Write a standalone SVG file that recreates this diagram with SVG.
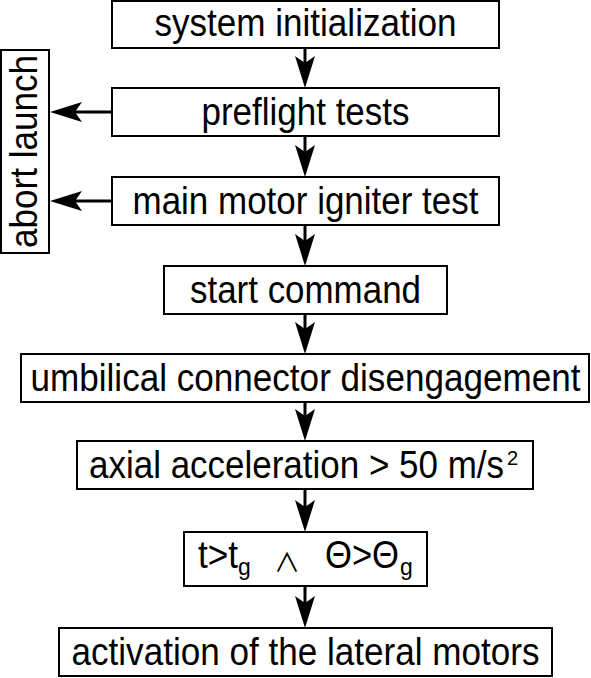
<svg xmlns="http://www.w3.org/2000/svg" width="591" height="678" viewBox="0 0 591 678">
<style>
.box{fill:#fff;stroke:#000;stroke-width:2}
.t{font-family:"Liberation Sans",Arial,sans-serif;font-size:38px;fill:#000;text-anchor:middle}
.c{fill:none;stroke:#000;stroke-width:3}
</style>
<defs>
<marker id="ah" markerUnits="userSpaceOnUse" viewBox="-33 -11 34 22" markerWidth="34" markerHeight="22" refX="-24" refY="0" orient="auto" overflow="visible">
<path d="M0,0 L-32,-10 L-25,0 L-32,10 Z" fill="#000"/>
</marker>
</defs>
<rect width="591" height="678" fill="#fff"/>
<g id="connectors">
<line class="c" x1="305" y1="48" x2="305" y2="64" marker-end="url(#ah)"/>
<line class="c" x1="305" y1="136" x2="305" y2="153" marker-end="url(#ah)"/>
<line class="c" x1="305" y1="225" x2="305" y2="242" marker-end="url(#ah)"/>
<line class="c" x1="305" y1="314" x2="305" y2="330" marker-end="url(#ah)"/>
<line class="c" x1="305" y1="402" x2="305" y2="417" marker-end="url(#ah)"/>
<line class="c" x1="305" y1="489" x2="305" y2="508" marker-end="url(#ah)"/>
<line class="c" x1="305" y1="586" x2="305" y2="604" marker-end="url(#ah)"/>
<line class="c" x1="112" y1="112" x2="74" y2="112" marker-end="url(#ah)"/>
<line class="c" x1="112" y1="201" x2="74" y2="201" marker-end="url(#ah)"/>
</g>
<g id="n1"><rect class="box" x="112" y="1" width="387" height="47"/><text class="t" x="305.5" y="36" textLength="302" lengthAdjust="spacingAndGlyphs">system initialization</text></g>
<g id="n2"><rect class="box" x="112" y="88" width="387" height="48"/><text class="t" x="305.5" y="124.5" textLength="208" lengthAdjust="spacingAndGlyphs">preflight tests</text></g>
<g id="n3"><rect class="box" x="112" y="177" width="387" height="48"/><text class="t" x="305.5" y="213.5" textLength="346" lengthAdjust="spacingAndGlyphs">main motor igniter test</text></g>
<g id="abort"><rect class="box" x="1" y="50" width="48" height="203"/><text class="t" transform="translate(37,151.5) rotate(-90)" x="0" y="0" textLength="193" lengthAdjust="spacingAndGlyphs">abort launch</text></g>
<g id="n4"><rect class="box" x="164" y="266" width="283" height="48"/><text class="t" x="305.5" y="302.5" textLength="231" lengthAdjust="spacingAndGlyphs">start command</text></g>
<g id="n5"><rect class="box" x="21" y="354" width="568" height="48"/><text class="t" x="305.5" y="390.5" textLength="550" lengthAdjust="spacingAndGlyphs">umbilical connector disengagement</text></g>
<g id="n6"><rect class="box" x="77" y="441" width="456" height="48"/><text class="t" x="89" y="477.5" style="text-anchor:start" textLength="415" lengthAdjust="spacingAndGlyphs">axial acceleration &gt; 50 m/s</text><text class="t" x="507" y="465" style="text-anchor:start;font-size:20px">2</text></g>
<g id="n7"><rect class="box" x="184" y="532" width="243" height="54"/>
<text class="t" x="198" y="568" style="text-anchor:start" textLength="40" lengthAdjust="spacingAndGlyphs">t&gt;t</text>
<text class="t" x="238" y="575" style="text-anchor:start;font-size:23px">g</text>
<text class="t" x="287" y="572" style="font-family:'Noto Sans CJK SC',sans-serif;font-size:26px">∧</text>
<text class="t" x="325" y="568" style="text-anchor:start" textLength="74" lengthAdjust="spacingAndGlyphs">Θ&gt;Θ</text>
<text class="t" x="400" y="575" style="text-anchor:start;font-size:23px">g</text></g>
<g id="n8"><rect class="box" x="59" y="628" width="493" height="48"/><text class="t" x="305.5" y="664.5" textLength="468" lengthAdjust="spacingAndGlyphs">activation of the lateral motors</text></g>
</svg>
